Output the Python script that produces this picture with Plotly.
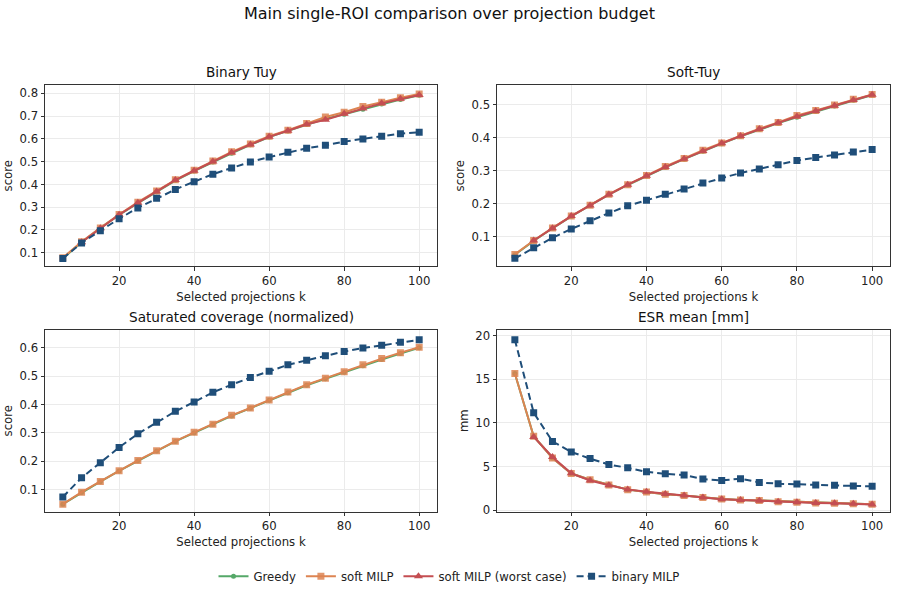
import plotly.graph_objects as go

k = list(range(5, 105, 5))

# Binary Tuy
bt_greedy = [0.075, 0.146, 0.208, 0.266, 0.318, 0.368, 0.417, 0.459, 0.499, 0.537, 0.574, 0.608, 0.635, 0.663, 0.688, 0.708, 0.730, 0.753, 0.773, 0.792]
bt_soft = [0.078, 0.148, 0.209, 0.268, 0.322, 0.371, 0.420, 0.462, 0.503, 0.543, 0.578, 0.612, 0.638, 0.667, 0.696, 0.717, 0.742, 0.761, 0.781, 0.797]
bt_worst = [None, 0.146, 0.208, 0.267, 0.319, 0.369, 0.419, 0.460, 0.501, 0.540, 0.575, 0.609, 0.636, 0.664, 0.684, 0.710, 0.733, 0.756, 0.776, 0.793]
bt_binary = [0.075, 0.143, 0.197, 0.249, 0.297, 0.339, 0.378, 0.412, 0.445, 0.472, 0.499, 0.520, 0.541, 0.559, 0.572, 0.588, 0.600, 0.612, 0.623, 0.629]

# Soft-Tuy
st_greedy = [0.046, 0.088, 0.126, 0.162, 0.195, 0.228, 0.257, 0.284, 0.310, 0.335, 0.359, 0.382, 0.404, 0.425, 0.444, 0.462, 0.479, 0.496, 0.513, 0.529]
st_soft = [0.047, 0.089, 0.127, 0.163, 0.196, 0.229, 0.258, 0.286, 0.313, 0.337, 0.362, 0.384, 0.406, 0.427, 0.446, 0.467, 0.482, 0.499, 0.516, 0.531]
st_worst = [None, 0.089, 0.126, 0.163, 0.195, 0.228, 0.258, 0.285, 0.311, 0.336, 0.360, 0.383, 0.405, 0.426, 0.445, 0.464, 0.481, 0.497, 0.514, 0.530]
st_binary = [0.035, 0.067, 0.097, 0.124, 0.149, 0.172, 0.194, 0.211, 0.229, 0.245, 0.263, 0.278, 0.293, 0.305, 0.318, 0.331, 0.340, 0.348, 0.357, 0.364]

# Saturated coverage (normalized)
sc_greedy = [0.049, 0.090, 0.128, 0.166, 0.202, 0.236, 0.270, 0.301, 0.330, 0.360, 0.387, 0.415, 0.442, 0.468, 0.491, 0.514, 0.537, 0.559, 0.580, 0.600]
sc_soft = [0.049, 0.091, 0.129, 0.167, 0.203, 0.237, 0.271, 0.302, 0.331, 0.362, 0.388, 0.416, 0.444, 0.470, 0.493, 0.516, 0.540, 0.562, 0.583, 0.602]
sc_binary = [0.074, 0.142, 0.195, 0.249, 0.297, 0.338, 0.376, 0.409, 0.443, 0.470, 0.495, 0.517, 0.540, 0.556, 0.572, 0.587, 0.599, 0.609, 0.620, 0.628]

# ESR mean [mm]
esr_greedy = [15.68, 8.48, 5.98, 4.20, 3.48, 2.88, 2.35, 2.08, 1.82, 1.67, 1.44, 1.29, 1.17, 1.10, 0.95, 0.91, 0.83, 0.80, 0.72, 0.68]
esr_soft = [15.68, 8.48, 5.98, 4.20, 3.48, 2.88, 2.35, 2.08, 1.82, 1.67, 1.44, 1.29, 1.17, 1.10, 0.95, 0.91, 0.83, 0.80, 0.72, 0.68]
esr_worst = [None, 8.40, 6.10, 4.22, 3.40, 2.85, 2.38, 2.10, 1.85, 1.68, 1.45, 1.25, 1.17, 1.08, 0.95, 0.90, 0.83, 0.78, 0.72, 0.66]
esr_binary = [19.55, 11.17, 7.88, 6.67, 5.91, 5.23, 4.85, 4.39, 4.17, 4.02, 3.56, 3.41, 3.60, 3.18, 3.03, 2.99, 2.88, 2.84, 2.77, 2.73]

titles = ["Binary Tuy", "Soft-Tuy", "Saturated coverage (normalized)", "ESR mean [mm]"]
ylabels = ["score", "score", "score", "mm"]

C_GREEDY = "#55a868"
C_SOFT = "#dd8452"
C_WORST = "#c44e52"
C_BIN = "#1f4e79"

panels = [
    (bt_greedy, bt_soft, bt_worst, bt_binary),
    (st_greedy, st_soft, st_worst, st_binary),
    (sc_greedy, sc_soft, None, sc_binary),
    (esr_greedy, esr_soft, esr_worst, esr_binary),
]

W, H = 898, 594
xdom = [[45 / W, 437 / W], [497 / W, 890 / W]]
ydom = [[1 - 268 / H, 1 - 85 / H], [1 - 516 / H, 1 - 332 / H]]
yranges = [[0.0405, 0.836], [0.011, 0.559], [0.022, 0.664], [-0.19, 20.7]]
ytickvals = [[0.1, 0.2, 0.3, 0.4, 0.5, 0.6, 0.7, 0.8],
             [0.1, 0.2, 0.3, 0.4, 0.5],
             [0.1, 0.2, 0.3, 0.4, 0.5, 0.6],
             [0, 5, 10, 15, 20]]

fig = go.Figure()
layout = {}
annotations = []
FONT = "DejaVu Sans"
FS = 11.7

for i, (g, s, w, b) in enumerate(panels):
    row, col = divmod(i, 2)
    ax = "" if i == 0 else str(i + 1)
    xa, ya = "x" + ax, "y" + ax
    first = i == 0
    fig.add_trace(go.Scatter(x=k, y=g, mode="lines+markers", name="Greedy",
                             line=dict(color=C_GREEDY, width=2),
                             marker=dict(symbol="circle", size=5, color=C_GREEDY),
                             legendgroup="g", showlegend=first, xaxis=xa, yaxis=ya))
    fig.add_trace(go.Scatter(x=k, y=s, mode="lines+markers", name="soft MILP",
                             line=dict(color=C_SOFT, width=2),
                             marker=dict(symbol="square", size=7, color=C_SOFT, opacity=0.85),
                             legendgroup="s", showlegend=first, xaxis=xa, yaxis=ya))
    if w is not None:
        fig.add_trace(go.Scatter(x=k, y=w, mode="lines+markers", name="soft MILP (worst case)",
                                 line=dict(color=C_WORST, width=2),
                                 marker=dict(symbol="triangle-up", size=8, color=C_WORST),
                                 legendgroup="w", showlegend=first, xaxis=xa, yaxis=ya))
    fig.add_trace(go.Scatter(x=k, y=b, mode="lines+markers", name="binary MILP",
                             line=dict(color=C_BIN, width=2, dash="7px,4px"),
                             marker=dict(symbol="square", size=7, color=C_BIN),
                             legendgroup="b", showlegend=first, xaxis=xa, yaxis=ya))
    common = dict(showline=True, mirror=True, linecolor="#333333", linewidth=1,
                  ticks="outside", ticklen=3.5, tickcolor="#333333",
                  showgrid=True, gridcolor="#ebebeb", gridwidth=1, zeroline=False,
                  tickfont=dict(family=FONT, size=FS, color="#222222"))
    layout["xaxis" + ax] = dict(domain=xdom[col], range=[0.25, 104.75], anchor=ya,
                                tickvals=[20, 40, 60, 80, 100],
                                title=dict(text="Selected projections k", standoff=5,
                                           font=dict(family=FONT, size=FS, color="#222222")),
                                **common)
    layout["yaxis" + ax] = dict(domain=ydom[row], range=yranges[i], anchor=xa,
                                tickvals=ytickvals[i],
                                title=dict(text=ylabels[i], standoff=4,
                                           font=dict(family=FONT, size=FS, color="#222222")),
                                **common)
    annotations.append(dict(text=titles[i], xref="paper", yref="paper",
                            x=(xdom[col][0] + xdom[col][1]) / 2, y=ydom[row][1] + 3 / H,
                            xanchor="center", yanchor="bottom", showarrow=False,
                            font=dict(family=FONT, size=13.6, color="#111111")))

annotations.append(dict(text="Main single-ROI comparison over projection budget",
                        xref="paper", yref="paper", x=0.5, y=1 - 13 / H,
                        xanchor="center", yanchor="middle", showarrow=False,
                        font=dict(family=FONT, size=16, color="#111111")))

fig.update_layout(
    width=W, height=H,
    margin=dict(l=0, r=0, t=0, b=0),
    paper_bgcolor="white", plot_bgcolor="white",
    annotations=annotations,
    legend=dict(orientation="h", x=0.5, xanchor="center", y=1 - 581 / H, yanchor="middle",
                font=dict(family=FONT, size=FS, color="#222222"),
                itemwidth=30, tracegroupgap=0, bgcolor="rgba(0,0,0,0)"),
    showlegend=True,
    **layout,
)

fig.write_html("out.html")
